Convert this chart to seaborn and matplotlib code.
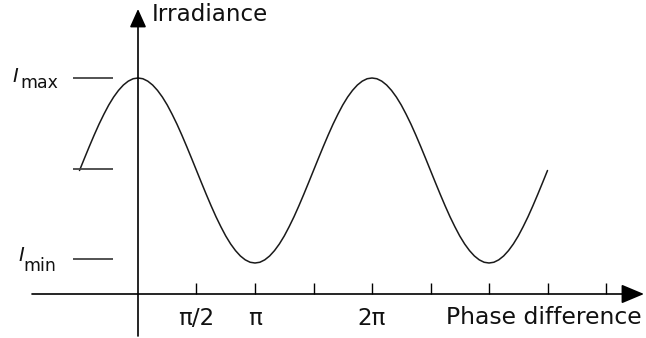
import numpy as np
import pandas as pd
import matplotlib
matplotlib.use("Agg")
import matplotlib.pyplot as plt
import seaborn as sns

# ---- data ----
# phase difference in degrees and normalised irradiance (Imin = 0, Imax = 1)
phase_deg = [-90, -82.5, -75, -67.5, -60, -52.5, -45, -37.5, -30, -22.5, -15, -7.5,
             0, 7.5, 15, 22.5, 30, 37.5, 45, 52.5, 60, 67.5, 75, 82.5,
             90, 97.5, 105, 112.5, 120, 127.5, 135, 142.5, 150, 157.5, 165, 172.5,
             180, 187.5, 195, 202.5, 210, 217.5, 225, 232.5, 240, 247.5, 255, 262.5,
             270, 277.5, 285, 292.5, 300, 307.5, 315, 322.5, 330, 337.5, 345, 352.5,
             360, 367.5, 375, 382.5, 390, 397.5, 405, 412.5, 420, 427.5, 435, 442.5,
             450, 457.5, 465, 472.5, 480, 487.5, 495, 502.5, 510, 517.5, 525, 532.5,
             540, 547.5, 555, 562.5, 570, 577.5, 585, 592.5, 600, 607.5, 615, 622.5,
             630]
irradiance = [0.5, 0.565, 0.629, 0.691, 0.75, 0.804, 0.854, 0.897, 0.933, 0.962, 0.983, 0.996,
              1.0, 0.996, 0.983, 0.962, 0.933, 0.897, 0.854, 0.804, 0.75, 0.691, 0.629, 0.565,
              0.5, 0.435, 0.371, 0.309, 0.25, 0.196, 0.146, 0.103, 0.067, 0.038, 0.017, 0.004,
              0.0, 0.004, 0.017, 0.038, 0.067, 0.103, 0.146, 0.196, 0.25, 0.309, 0.371, 0.435,
              0.5, 0.565, 0.629, 0.691, 0.75, 0.804, 0.854, 0.897, 0.933, 0.962, 0.983, 0.996,
              1.0, 0.996, 0.983, 0.962, 0.933, 0.897, 0.854, 0.804, 0.75, 0.691, 0.629, 0.565,
              0.5, 0.435, 0.371, 0.309, 0.25, 0.196, 0.146, 0.103, 0.067, 0.038, 0.017, 0.004,
              0.0, 0.004, 0.017, 0.038, 0.067, 0.103, 0.146, 0.196, 0.25, 0.309, 0.371, 0.435,
              0.5]
xtick_deg = [90, 180, 270, 360, 450, 540, 630, 720]
xtick_labels = ["π/2", "π", "", "2π", "", "", "", ""]
level_values = [1.0, 0.508, 0.0216]
level_subs = ["max", "", "min"]

sns.set_theme(style="white")
plt.rcParams["font.family"] = ["DejaVu Sans"]

W, H = 646, 338
fig = plt.figure(figsize=(W / 100, H / 100), dpi=100)
ax = fig.add_axes([0, 0, 1, 1])

# pixel -> data helpers (layout only)
def dx(px):
    return (px - 138) / 0.65

def dy(py):
    return (263 - py) / 185.0

ax.set_xlim(dx(0), dx(W))
ax.set_ylim(dy(H), dy(0))
ax.axis("off")

df = pd.DataFrame({"phase": phase_deg, "I": irradiance})
sns.lineplot(data=df, x="phase", y="I", ax=ax, color="#1a1a1a", lw=1.1,
             sort=False, estimator=None)

axis_y = dy(294)
# x axis with arrow
ax.annotate("", xy=(dx(644), axis_y), xytext=(dx(32), axis_y),
            arrowprops=dict(arrowstyle="-|>,head_length=1.0,head_width=0.42",
                            mutation_scale=14, lw=1.2, color="black",
                            shrinkA=0, shrinkB=0))
# y axis with arrow
ax.annotate("", xy=(0, dy(9)), xytext=(0, dy(336)),
            arrowprops=dict(arrowstyle="-|>,head_length=0.8,head_width=0.36",
                            mutation_scale=14, lw=1.2, color="black",
                            shrinkA=0, shrinkB=0))

# x ticks
ax.vlines(xtick_deg, dy(283), axis_y, color="black", lw=1.0)
fs = 16.6
for xd, lab in zip(xtick_deg, xtick_labels):
    if lab:
        ax.text(xd, dy(325), lab, ha="center", va="baseline", fontsize=fs,
                color="#111111")

ax.text(dx(446), dy(324), "Phase difference", ha="left", va="baseline",
        fontsize=16.9, color="#111111")
ax.text(dx(152), dy(21), "Irradiance", ha="left", va="baseline",
        fontsize=fs, color="#111111")

# level marks
ax.hlines(level_values, dx(73), dx(113), color="#444444", lw=1.3)

# I_max / I_min labels
ax.text(dx(12), dy(82), "I", fontsize=14, style="italic", ha="left",
        va="baseline", color="#111111")
ax.text(dx(20), dy(88), level_subs[0], fontsize=12.5, ha="left",
        va="baseline", color="#111111")
ax.text(dx(18), dy(261), "I", fontsize=14, style="italic", ha="left",
        va="baseline", color="#111111")
ax.text(dx(23), dy(271), level_subs[2], fontsize=12.5, ha="left",
        va="baseline", color="#111111")

fig.savefig("out.png", dpi=100)
